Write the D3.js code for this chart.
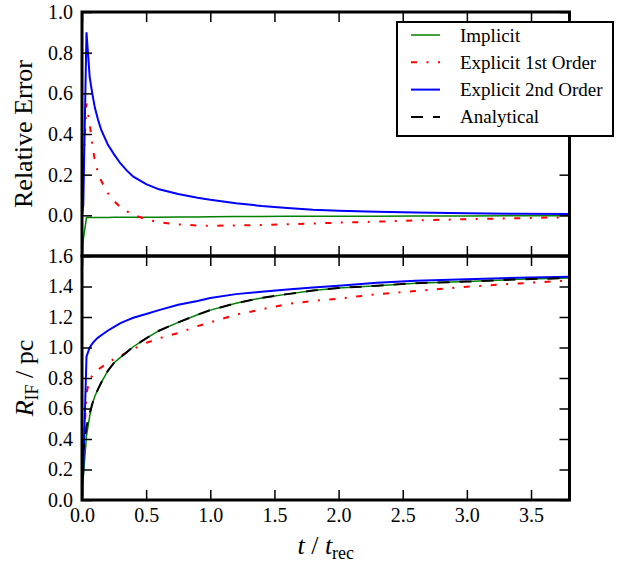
<!DOCTYPE html>
<html>
<head>
<meta charset="utf-8">
<script src="https://cdn.jsdelivr.net/npm/d3@7"></script>
<style>
  body { margin: 0; background: #fff; }
  svg { display: block; font-family: "Liberation Serif", "DejaVu Serif", serif; }
</style>
</head>
<body>
<div id="chart"></div>
<script>
// time in units of t_rec, shared by every curve
const tGrid = [0, 0.01, 0.035, 0.06, 0.08, 0.1, 0.125, 0.15, 0.2, 0.25, 0.3, 0.35, 0.4, 0.5,
  0.6, 0.75, 0.9, 1.0, 1.2, 1.4, 1.6, 1.8, 2.0, 2.3, 2.6, 3.0, 3.4, 3.8];

// top panel: relative error
const errImplicit = [-0.2, -0.12, -0.011, -0.011, -0.011, -0.011, -0.011, -0.011, -0.011,
  -0.01, -0.01, -0.01, -0.01, -0.009, -0.009, -0.008, -0.008, -0.007, -0.006, -0.006,
  -0.005, -0.005, -0.004, -0.004, -0.003, -0.003, -0.002, -0.002];
const errExplicit1 = [0.0, 0.25, 0.55, 0.45, 0.35, 0.27, 0.21, 0.17, 0.11, 0.07, 0.04, 0.02,
  0.003, -0.02, -0.034, -0.045, -0.05, -0.051, -0.05, -0.047, -0.044, -0.04, -0.036,
  -0.031, -0.025, -0.019, -0.014, -0.009];
const errExplicit2 = [0.0, 0.05, 0.90, 0.68, 0.60, 0.53, 0.47, 0.42, 0.35, 0.30, 0.255, 0.22,
  0.19, 0.153, 0.128, 0.105, 0.087, 0.077, 0.06, 0.046, 0.036, 0.027, 0.022, 0.018, 0.014,
  0.010, 0.008, 0.006];

// bottom panel: ionisation front radius in pc
const rImplicit = [0.0, 0.15, 0.42, 0.55, 0.63, 0.68, 0.727, 0.77, 0.845, 0.90, 0.935, 0.97,
  1.005, 1.06, 1.11, 1.165, 1.215, 1.245, 1.29, 1.325, 1.35, 1.373, 1.39, 1.405, 1.422,
  1.432, 1.447, 1.455];
const rExplicit1 = [0.0, 0.3, 0.70, 0.79, 0.815, 0.835, 0.855, 0.87, 0.9, 0.925, 0.945, 0.968,
  0.99, 1.03, 1.06, 1.095, 1.14, 1.165, 1.215, 1.25, 1.285, 1.305, 1.32, 1.35, 1.37, 1.398,
  1.42, 1.44];
const rExplicit2 = [0.0, 0.2, 0.94, 1.0, 1.025, 1.045, 1.065, 1.08, 1.11, 1.135, 1.16, 1.178,
  1.195, 1.22, 1.245, 1.28, 1.305, 1.325, 1.35, 1.365, 1.38, 1.393, 1.405, 1.425, 1.437,
  1.448, 1.457, 1.464];
const rAnalytical = [0.0, 0.32, 0.48, 0.57, 0.63, 0.68, 0.727, 0.77, 0.845, 0.90, 0.935, 0.97,
  1.005, 1.06, 1.11, 1.165, 1.215, 1.245, 1.29, 1.325, 1.35, 1.373, 1.39, 1.405, 1.422,
  1.432, 1.447, 1.455];

const xTicks = [0, 0.5, 1.0, 1.5, 2.0, 2.5, 3.0, 3.5];
const errTicks = [0, 0.2, 0.4, 0.6, 0.8, 1.0];
const rTicks = [0, 0.2, 0.4, 0.6, 0.8, 1.0, 1.2, 1.4, 1.6];
const seriesNames = ["Implicit", "Explicit 1st Order", "Explicit 2nd Order", "Analytical"];

const styles = [
  { color: "#008000", width: 1.5, dash: null },
  { color: "#ff0000", width: 2, dash: "6,9.5,2,9.5" },
  { color: "#0000ff", width: 2, dash: null },
  { color: "#000000", width: 2, dash: "12,10" }
];

const W = 638, H = 563;
const left = 82, right = 569.5;
const topY0 = 12, midY = 256, botY = 500;

const svg = d3.select("#chart").append("svg")
  .attr("width", W).attr("height", H);

const x = d3.scaleLinear().domain([0, 3.8]).range([left, right]);
const yErr = d3.scaleLinear().domain([-0.2, 1.0]).range([midY, topY0]);
const yR = d3.scaleLinear().domain([0, 1.6]).range([botY, midY]);

const defs = svg.append("defs");
defs.append("clipPath").attr("id", "clipTop").append("rect")
  .attr("x", left).attr("y", topY0).attr("width", right - left).attr("height", midY - topY0);
defs.append("clipPath").attr("id", "clipBot").append("rect")
  .attr("x", left).attr("y", midY).attr("width", right - left).attr("height", botY - midY);

function drawLines(y, seriesList, clip) {
  const g = svg.append("g").attr("clip-path", `url(#${clip})`);
  seriesList.forEach(s => {
    const st = styles[s.style];
    const line = d3.line().x((d, i) => x(tGrid[i])).y(d => y(d));
    g.append("path")
      .attr("d", line(s.values))
      .attr("fill", "none")
      .attr("stroke", st.color)
      .attr("stroke-width", st.width)
      .attr("stroke-dasharray", st.dash);
  });
}

function drawAxes(y, yTicks, y0, y1, showX) {
  const fmt = d3.format(".1f");
  // left
  svg.append("g").attr("class", "axis").attr("transform", `translate(${left},0)`)
    .call(d3.axisLeft(y).tickValues(yTicks).tickSize(-10).tickPadding(9).tickFormat(fmt));
  // right
  svg.append("g").attr("class", "axis").attr("transform", `translate(${right},0)`)
    .call(d3.axisRight(y).tickValues(yTicks).tickSize(-10).tickFormat(""));
  // top
  svg.append("g").attr("class", "axis").attr("transform", `translate(0,${y0})`)
    .call(d3.axisTop(x).tickValues(xTicks).tickSize(-10).tickFormat(""));
  // bottom
  svg.append("g").attr("class", "axis").attr("transform", `translate(0,${y1})`)
    .call(d3.axisBottom(x).tickValues(xTicks).tickSize(-10).tickPadding(8)
      .tickFormat(showX ? fmt : ""));
  svg.append("rect")
    .attr("x", left).attr("y", y0)
    .attr("width", right - left).attr("height", y1 - y0)
    .attr("fill", "none").attr("stroke", "#000").attr("stroke-width", 3);
}

drawLines(yErr, [
  { values: errImplicit, style: 0 },
  { values: errExplicit1, style: 1 },
  { values: errExplicit2, style: 2 }
], "clipTop");

drawLines(yR, [
  { values: rImplicit, style: 0 },
  { values: rExplicit1, style: 1 },
  { values: rExplicit2, style: 2 },
  { values: rAnalytical, style: 3 }
], "clipBot");

drawAxes(yErr, errTicks, topY0, midY, false);
drawAxes(yR, rTicks, midY, botY, true);

svg.selectAll(".axis .domain").remove();
svg.selectAll(".axis .tick line").attr("stroke", "#000").attr("stroke-width", 1.5);
svg.selectAll(".axis").attr("font-family", null).attr("font-size", null);
svg.selectAll(".axis text")
  .attr("fill", "#000")
  .style("font-family", "'Liberation Serif', serif")
  .style("font-size", "20px");

// legend
const lg = svg.append("g");
lg.append("rect")
  .attr("x", 397).attr("y", 22).attr("width", 216).attr("height", 114)
  .attr("fill", "#fff").attr("stroke", "#000").attr("stroke-width", 2);
seriesNames.forEach((name, i) => {
  const yy = 35 + i * 27.3;
  const st = styles[i];
  lg.append("line")
    .attr("x1", 411).attr("x2", 440).attr("y1", yy).attr("y2", yy)
    .attr("stroke", st.color).attr("stroke-width", st.width)
    .attr("stroke-dasharray", st.dash);
  lg.append("text")
    .attr("x", 460).attr("y", yy + 6.5)
    .style("font-size", "19px")
    .text(name);
});

// axis labels
svg.append("text")
  .attr("transform", `translate(31.5,${(topY0 + midY) / 2}) rotate(-90)`)
  .attr("text-anchor", "middle")
  .style("font-size", "26px")
  .text("Relative Error");

const rl = svg.append("text")
  .attr("transform", `translate(33,${(midY + botY) / 2}) rotate(-90)`)
  .attr("text-anchor", "middle")
  .style("font-size", "26px");
rl.append("tspan").style("font-style", "italic").text("R");
rl.append("tspan").attr("dy", 5).style("font-size", "18px").text("IF");
rl.append("tspan").attr("dy", -5).text(" / pc");

const xl = svg.append("text")
  .attr("x", (left + right) / 2).attr("y", 554)
  .attr("text-anchor", "middle")
  .style("font-size", "26px");
xl.append("tspan").style("font-style", "italic").text("t");
xl.append("tspan").text(" / ");
xl.append("tspan").style("font-style", "italic").text("t");
xl.append("tspan").attr("dy", 5).style("font-size", "18px").text("rec");
</script>
</body>
</html>
